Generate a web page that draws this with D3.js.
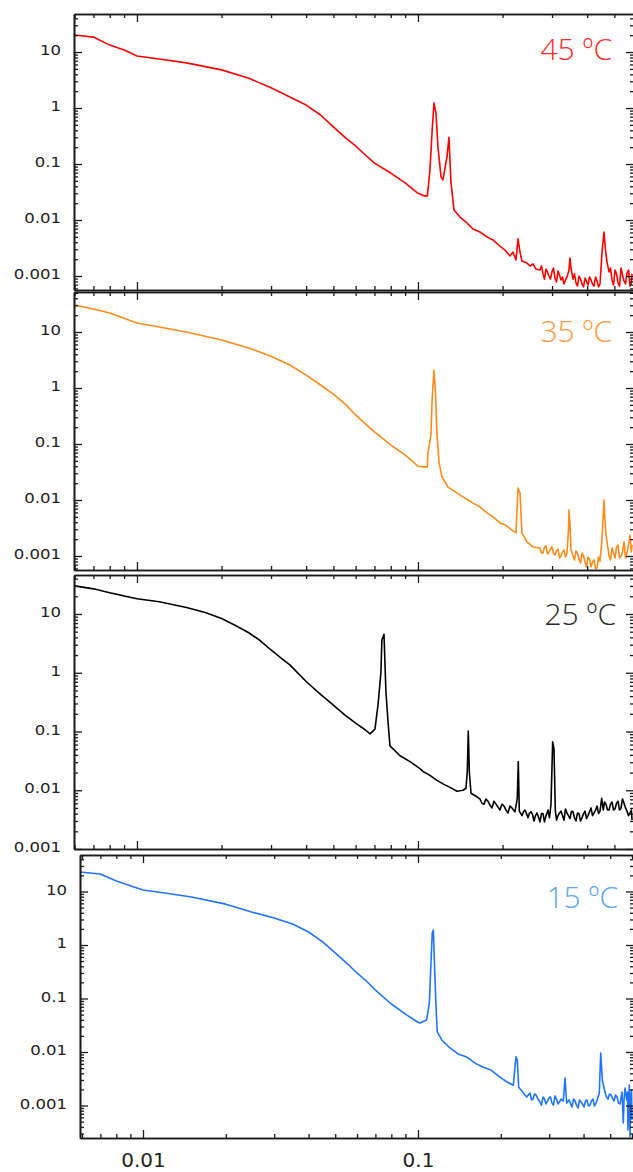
<!DOCTYPE html>
<html>
<head>
<meta charset="utf-8">
<script src="https://cdn.jsdelivr.net/npm/d3@7"></script>
<style>
    html, body { margin: 0; padding: 0; background: #fff; }
    svg { display: block; }
</style>
</head>
<body>
<div id="grafico"></div>
<script>
// SAXS curves [q, I] (sorted by q before drawing)
const saxs45 = [
    [0.006, 20.1], [0.007, 18.5], [0.008, 13.3], [0.009, 10.9], [0.01, 8.5], [0.012, 7.5], [0.015, 6.4],
    [0.02, 4.8], [0.025, 3.4], [0.03, 2.3], [0.035, 1.57], [0.04, 1.13], [0.045, 0.75], [0.05, 0.46],
    [0.055, 0.30], [0.06, 0.21], [0.065, 0.145], [0.07, 0.104], [0.08, 0.069], [0.09, 0.046], [0.1, 0.030],
    [0.105, 0.027], [0.108, 0.027], [0.1103, 0.078], [0.1122, 0.36], [0.114, 1.23], [0.1159, 0.81],
    [0.1178, 0.20], [0.1208, 0.059], [0.1227, 0.052], [0.1268, 0.133], [0.1289, 0.30], [0.131, 0.048],
    [0.1343, 0.0151], [0.1411, 0.0113], [0.1482, 0.0092], [0.157, 0.0069], [0.1662, 0.0061], [0.176, 0.0050],
    [0.1849, 0.0044], [0.1957, 0.0034], [0.204, 0.0029], [0.2125, 0.00228], [0.2178, 0.00268], [0.2233, 0.00193],
    [0.227, 0.0046], [0.2307, 0.00268], [0.2344, 0.00185], [0.2443, 0.0017], [0.2504, 0.00151], [0.2566, 0.00164],
    [0.263, 0.00133], [0.2717, 0.00128], [0.2785, 0.00109], [0.2854, 0.00133], [0.2925, 0.00100], [0.2998, 0.00118],
    [0.3073, 0.00092], [0.315, 0.00123], [0.3228, 0.00085], [0.3308, 0.00072], [0.3391, 0.00096], [0.3447, 0.00128],
    [0.3475, 0.0021], [0.3503, 0.00139], [0.3562, 0.00088], [0.3651, 0.00075], [0.3742, 0.00100], [0.3835, 0.00072],
    [0.393, 0.00092], [0.4028, 0.00069], [0.4128, 0.00085], [0.4231, 0.00066], [0.4337, 0.00081], [0.4444, 0.00072],
    [0.4516, 0.00258], [0.459, 0.0061], [0.4648, 0.0029], [0.4706, 0.00178], [0.4785, 0.00118], [0.4904, 0.00085],
    [0.5026, 0.00128], [0.5151, 0.00075], [0.5279, 0.00139], [0.541, 0.00081], [0.5545, 0.00113], [0.5683, 0.00066],
    [0.5777, 0.00109],
    [0.2751, 0.00151], [0.2819, 0.00088], [0.2889, 0.00118], [0.2961, 0.00088], [0.3035, 0.00139], [0.3111, 0.00078],
    [0.3189, 0.00104], [0.3268, 0.00096], [0.3349, 0.00085], [0.3606, 0.00109], [0.3696, 0.00066], [0.3788, 0.00088],
    [0.3882, 0.00064], [0.3979, 0.00081], [0.4078, 0.00096], [0.4179, 0.00072], [0.4284, 0.00096], [0.439, 0.00064],
    [0.4844, 0.00139], [0.4965, 0.00069], [0.5088, 0.00109], [0.5215, 0.00066], [0.5344, 0.00104], [0.5477, 0.00072],
    [0.5614, 0.00128], [0.5745, 0.00075]
];

const saxs35 = [
    [0.006, 30.3], [0.007, 25.7], [0.008, 21.8], [0.01, 14.5], [0.012, 12.3], [0.015, 10.0], [0.02, 7.2],
    [0.025, 5.2], [0.03, 3.7], [0.035, 2.57], [0.04, 1.7], [0.045, 1.13], [0.05, 0.78], [0.055, 0.52],
    [0.06, 0.33], [0.065, 0.228], [0.07, 0.164], [0.08, 0.096], [0.09, 0.064], [0.1, 0.040], [0.105, 0.039],
    [0.108, 0.039], [0.1085, 0.069], [0.1112, 0.145], [0.1122, 0.56], [0.114, 2.1], [0.1154, 0.85],
    [0.1169, 0.145], [0.1188, 0.048], [0.1217, 0.026], [0.1279, 0.017], [0.1411, 0.0123], [0.157, 0.0088],
    [0.1662, 0.0075], [0.176, 0.0059], [0.1849, 0.0050], [0.1957, 0.0039], [0.204, 0.0036], [0.216, 0.0029],
    [0.2233, 0.00258], [0.227, 0.0164], [0.2307, 0.0133], [0.2344, 0.00258], [0.2443, 0.00178], [0.2566, 0.00145],
    [0.2717, 0.00139], [0.2785, 0.00113], [0.2854, 0.00151], [0.2925, 0.00118], [0.2998, 0.00145], [0.3073, 0.00104],
    [0.315, 0.00133], [0.3228, 0.00100], [0.3308, 0.00128], [0.3391, 0.00113], [0.3432, 0.0029], [0.3447, 0.0066],
    [0.3475, 0.0036], [0.3503, 0.00133], [0.3562, 0.00100], [0.3651, 0.00123], [0.3742, 0.00088], [0.3835, 0.00113],
    [0.393, 0.00078], [0.4028, 0.00096], [0.4128, 0.00064], [0.4231, 0.00085], [0.4337, 0.00061], [0.4444, 0.00081],
    [0.4516, 0.00193], [0.459, 0.0100], [0.4628, 0.0044], [0.4668, 0.00237], [0.4785, 0.00100], [0.4904, 0.00139],
    [0.5026, 0.00092], [0.5151, 0.00157], [0.5279, 0.00100], [0.541, 0.00178], [0.5545, 0.00118], [0.5683, 0.00237],
    [0.5777, 0.00157],
    [0.2751, 0.00113], [0.2819, 0.00145], [0.2889, 0.00109], [0.2961, 0.00133], [0.3035, 0.00113], [0.3111, 0.00123],
    [0.3189, 0.00092], [0.3268, 0.00118], [0.3349, 0.00096], [0.3606, 0.00085], [0.3696, 0.00113], [0.3788, 0.00075],
    [0.3882, 0.00100], [0.3979, 0.00064], [0.4078, 0.00088], [0.4179, 0.00078], [0.4284, 0.00059], [0.439, 0.00096],
    [0.4844, 0.00085], [0.4965, 0.00113], [0.5088, 0.00145], [0.5215, 0.00092], [0.5344, 0.00118], [0.5477, 0.00092],
    [0.5614, 0.00157], [0.5745, 0.00118]
];

const saxs25 = [
    [0.006, 30.1], [0.007, 26.8], [0.008, 23.0], [0.01, 18.2], [0.012, 16.2], [0.015, 12.9], [0.0175, 10.6],
    [0.02, 8.4], [0.0225, 6.3], [0.025, 4.8], [0.0275, 3.5], [0.03, 2.44], [0.0325, 1.79], [0.035, 1.36],
    [0.04, 0.71], [0.045, 0.43], [0.05, 0.28], [0.055, 0.19],
    [0.06, 0.139], [0.065, 0.106], [0.0675, 0.091], [0.0703, 0.110], [0.0721, 0.29], [0.0738, 1.0],
    [0.0744, 3.6], [0.0757, 4.5], [0.0769, 0.48], [0.0782, 0.15], [0.0795, 0.057], [0.0863, 0.0387],
    [0.0937, 0.0307], [0.1016, 0.0234], [0.1042, 0.0209], [0.1103, 0.0179], [0.1168, 0.0147], [0.1237, 0.0126],
    [0.13, 0.0112], [0.1377, 0.0096], [0.1446, 0.0100], [0.1482, 0.0108], [0.1498, 0.0209], [0.151, 0.102],
    [0.1523, 0.0209], [0.1544, 0.0089], [0.1609, 0.0079], [0.1662, 0.0071], [0.1717, 0.0058], [0.1774, 0.0065],
    [0.1833, 0.0050], [0.1895, 0.0058], [0.1957, 0.0046], [0.2023, 0.0054], [0.2091, 0.0041], [0.216, 0.0050],
    [0.2214, 0.0043], [0.2256, 0.0073], [0.2275, 0.0307], [0.2294, 0.0044], [0.2345, 0.0037], [0.2403, 0.0046],
    [0.2463, 0.0034], [0.2524, 0.0043], [0.2587, 0.0030], [0.2652, 0.0041], [0.2717, 0.0029], [0.2785, 0.0040],
    [0.2854, 0.0037], [0.2902, 0.0046], [0.2974, 0.0058], [0.3015, 0.0667], [0.3048, 0.0508], [0.3081, 0.0046],
    [0.315, 0.0037], [0.3228, 0.0044], [0.3308, 0.0031], [0.3391, 0.0041], [0.3475, 0.0033], [0.3562, 0.0043],
    [0.3651, 0.0030], [0.3742, 0.0040], [0.3835, 0.0034], [0.393, 0.0044], [0.4028, 0.0037], [0.4128, 0.0050],
    [0.4231, 0.0041], [0.4337, 0.0054], [0.4444, 0.0044], [0.4505, 0.0073], [0.4566, 0.0046], [0.4668, 0.0058],
    [0.4785, 0.0046], [0.4904, 0.0063], [0.5026, 0.0048], [0.5151, 0.0065], [0.5279, 0.0050], [0.541, 0.0060],
    [0.5545, 0.0044], [0.5683, 0.0041], [0.5777, 0.0031],
    [0.1689, 0.0060], [0.1745, 0.0071], [0.1803, 0.0056], [0.1864, 0.0065], [0.1926, 0.0052], [0.199, 0.0058],
    [0.2057, 0.0046], [0.2125, 0.0054], [0.2374, 0.0043], [0.2433, 0.0040], [0.2494, 0.0041], [0.2555, 0.0039],
    [0.2619, 0.0037], [0.2684, 0.0035],
    [0.2751, 0.0040], [0.2819, 0.0029], [0.2878, 0.0041], [0.2938, 0.0034], [0.3111, 0.0031], [0.3189, 0.0041],
    [0.3268, 0.0037], [0.3349, 0.0048], [0.3432, 0.0037], [0.3518, 0.0044], [0.3606, 0.0034], [0.3696, 0.0041],
    [0.3788, 0.0030], [0.3882, 0.0040], [0.3979, 0.0033], [0.4078, 0.0043], [0.4179, 0.0037], [0.4284, 0.0046],
    [0.439, 0.0040], [0.4611, 0.0063], [0.4726, 0.0046], [0.4844, 0.0058], [0.4965, 0.0046], [0.5088, 0.0060],
    [0.5215, 0.0046], [0.5344, 0.0071], [0.5477, 0.0050], [0.5614, 0.0037], [0.5745, 0.0046]
];

const saxs15 = [
    [0.0059, 23.1], [0.007, 21.2], [0.008, 15.7], [0.01, 10.7], [0.012, 9.4], [0.015, 7.9], [0.02, 5.8],
    [0.025, 4.1], [0.03, 3.2], [0.035, 2.47], [0.04, 1.75], [0.045, 1.14], [0.05, 0.71], [0.055, 0.46],
    [0.06, 0.30], [0.065, 0.21], [0.07, 0.144], [0.08, 0.079], [0.09, 0.051], [0.1, 0.036], [0.1017, 0.0348],
    [0.1075, 0.0397], [0.11, 0.082], [0.1112, 0.34], [0.1127, 1.68], [0.1137, 1.9], [0.115, 0.34],
    [0.1163, 0.069], [0.1175, 0.0237], [0.122, 0.0168], [0.1307, 0.0119], [0.1398, 0.0092], [0.1503, 0.0081],
    [0.1611, 0.0062], [0.1727, 0.0052], [0.1842, 0.0046], [0.1987, 0.0034], [0.2107, 0.00275], [0.2221, 0.0024],
    [0.2272, 0.0081], [0.2297, 0.0071], [0.2324, 0.0022], [0.2485, 0.00144],
    [0.2555, 0.00171], [0.262, 0.00132], [0.2686, 0.00157], [0.2777, 0.00116], [0.2848, 0.00144], [0.292, 0.00107],
    [0.2995, 0.00138], [0.3071, 0.00111], [0.3149, 0.00151], [0.3229, 0.00107], [0.3311, 0.00132], [0.3376, 0.00121],
    [0.3424, 0.00327], [0.3473, 0.00111], [0.354, 0.00127], [0.3631, 0.00094], [0.3724, 0.00121], [0.3819, 0.00090],
    [0.3916, 0.00116], [0.4015, 0.00094], [0.4117, 0.00127], [0.4222, 0.00102], [0.4329, 0.00132], [0.4439, 0.00111],
    [0.4564, 0.00171], [0.4618, 0.0096], [0.468, 0.0030], [0.4786, 0.00179], [0.491, 0.00132], [0.5035, 0.00157],
    [0.5163, 0.00121], [0.5294, 0.00144], [0.5428, 0.00107], [0.552, 0.00179], [0.5579, 0.00047], [0.566, 0.00212],
    [0.5741, 0.00127], [0.5803, 0.00035], [0.5866, 0.0024], [0.5902, 0.00026], [0.5951, 0.00157], [0.6001, 0.00054],
    [0.2587, 0.00127], [0.2653, 0.00164], [0.2731, 0.00132], [0.2812, 0.00102], [0.2884, 0.00132], [0.2957, 0.00121],
    [0.3032, 0.00144], [0.3109, 0.00102], [0.3188, 0.00132], [0.3269, 0.00116], [0.3585, 0.00111], [0.3677, 0.00132],
    [0.3771, 0.00102], [0.3867, 0.00127], [0.3965, 0.00107], [0.4065, 0.00121], [0.4169, 0.00098], [0.4275, 0.00121],
    [0.4383, 0.00098], [0.4494, 0.00132], [0.4847, 0.00144], [0.497, 0.00164], [0.5098, 0.00138], [0.5227, 0.00157],
    [0.536, 0.00111], [0.5473, 0.00138], [0.5613, 0.00127], [0.5779, 0.00179], [0.5891, 0.00082], [0.5976, 0.00193]
];

const tempLabels = ['45 ºC', '35 ºC', '25 ºC', '15 ºC'];
const yTickValues = [0.001, 0.01, 0.1, 1, 10];
const yTickLabels = ['0.001', '0.01', '0.1', '1', '10'];
const xTickValues = [0.01, 0.1];
const xTickLabels = ['0.01', '0.1'];

const width = 633;
const height = 1172;

const panels = [
    { data: saxs45, color: '#ff0000', text: '#ff2a2a', left: 74, right: 634, top: 14, bottom: 290,
      xDom: [0.00597, 0.5871], yDom: [0.000562, 47.8], lx: 612, ly: 60 },
    { data: saxs35, color: '#ff8c1a', text: '#ff9a3c', left: 74, right: 634, top: 292, bottom: 570,
      xDom: [0.00597, 0.5871], yDom: [0.000562, 51.8], lx: 612, ly: 342 },
    { data: saxs25, color: '#000000', text: '#2a2a2a', left: 74, right: 634, top: 575, bottom: 849,
      xDom: [0.00597, 0.5871], yDom: [0.001, 46.1], lx: 616, ly: 625 },
    { data: saxs15, color: '#2174ff', text: '#5aa5f0', left: 80, right: 634, top: 855, bottom: 1138,
      xDom: [0.005901, 0.6102], yDom: [0.000247, 48.1], lx: 618, ly: 908 }
];

// ticks 2..9 of every decade inside a domain
function minorTicks(dom) {
    const out = [];
    for (let e = -4; e <= 1; e++) {
        for (let k = 2; k <= 9; k++) {
            const v = +(k * Math.pow(10, e)).toPrecision(6);
            if (v > dom[0] && v < dom[1]) out.push(v);
        }
    }
    return out;
}

const svg = d3.select('#grafico')
    .append('svg')
    .attr('width', width)
    .attr('height', height);

function styleAxis(g) {
    g.selectAll('.domain').attr('stroke', '#1a1a1a').attr('stroke-width', 1.6);
    g.selectAll('.tick line').attr('stroke', '#1a1a1a').attr('stroke-width', 1.3);
}

panels.forEach((p, i) => {
    const x = d3.scaleLog().domain(p.xDom).range([p.left, p.right]);
    const y = d3.scaleLog().domain(p.yDom).range([p.bottom, p.top]);
    const xMinor = minorTicks(p.xDom);
    const yMinor = minorTicks(p.yDom);
    const yMajor = yTickValues.filter(v => v >= p.yDom[0] * 0.999 && v <= p.yDom[1]);
    const points = p.data.slice().sort((a, b) => a[0] - b[0]);

    svg.append('clipPath')
        .attr('id', 'clip' + i)
        .append('rect')
        .attr('x', p.left)
        .attr('y', p.top)
        .attr('width', p.right - p.left)
        .attr('height', p.bottom - p.top);

    const line = d3.line()
        .x(d => x(d[0]))
        .y(d => y(d[1]));

    svg.append('path')
        .datum(points)
        .attr('clip-path', `url(#clip${i})`)
        .attr('fill', 'none')
        .attr('stroke', p.color)
        .attr('stroke-width', 1.6)
        .attr('stroke-linejoin', 'round')
        .attr('d', line);

    // minor ticks, all four sides
    [
        [d3.axisLeft(y).tickValues(yMinor), `translate(${p.left},0)`],
        [d3.axisRight(y).tickValues(yMinor), `translate(${p.right},0)`],
        [d3.axisTop(x).tickValues(xMinor), `translate(0,${p.top})`],
        [d3.axisBottom(x).tickValues(xMinor), `translate(0,${p.bottom})`]
    ].forEach(([ax, tr]) => {
        svg.append('g')
            .attr('transform', tr)
            .call(ax.tickSize(-4).tickSizeOuter(0).tickFormat(''))
            .call(styleAxis);
    });

    // major ticks
    const yLeft = svg.append('g')
        .attr('transform', `translate(${p.left},0)`)
        .call(d3.axisLeft(y).tickValues(yMajor).tickSize(-8).tickSizeOuter(0).tickPadding(11)
            .tickFormat(d => yTickLabels[yTickValues.indexOf(d)]))
        .call(styleAxis)
        .attr('font-family', '"DejaVu Sans", sans-serif')
        .attr('font-size', 14);
    yLeft.selectAll('text')
        .attr('fill', '#222')
        .attr('dy', '0.18em')
        .attr('transform', 'scale(1.18,1)');

    svg.append('g')
        .attr('transform', `translate(${p.right},0)`)
        .call(d3.axisRight(y).tickValues(yMajor).tickSize(-8).tickSizeOuter(0).tickFormat(''))
        .call(styleAxis);

    svg.append('g')
        .attr('transform', `translate(0,${p.top})`)
        .call(d3.axisTop(x).tickValues(xTickValues).tickSize(-8).tickSizeOuter(0).tickFormat(''))
        .call(styleAxis);

    const xb = svg.append('g')
        .attr('transform', `translate(0,${p.bottom})`)
        .call(d3.axisBottom(x).tickValues(xTickValues).tickSize(-8).tickSizeOuter(0).tickPadding(15)
            .tickFormat(d => i === panels.length - 1 ? xTickLabels[xTickValues.indexOf(d)] : ''))
        .call(styleAxis)
        .attr('font-family', '"DejaVu Sans", sans-serif')
        .attr('font-size', 20);
    xb.selectAll('text').attr('fill', '#222');

    svg.append('text')
        .attr('x', p.lx)
        .attr('y', p.ly)
        .attr('text-anchor', 'end')
        .attr('font-family', '"Open Sans", sans-serif')
        .attr('font-weight', 300)
        .attr('font-size', 30)
        .attr('fill', p.text)
        .text(tempLabels[i]);
});
</script>
</body>
</html>
